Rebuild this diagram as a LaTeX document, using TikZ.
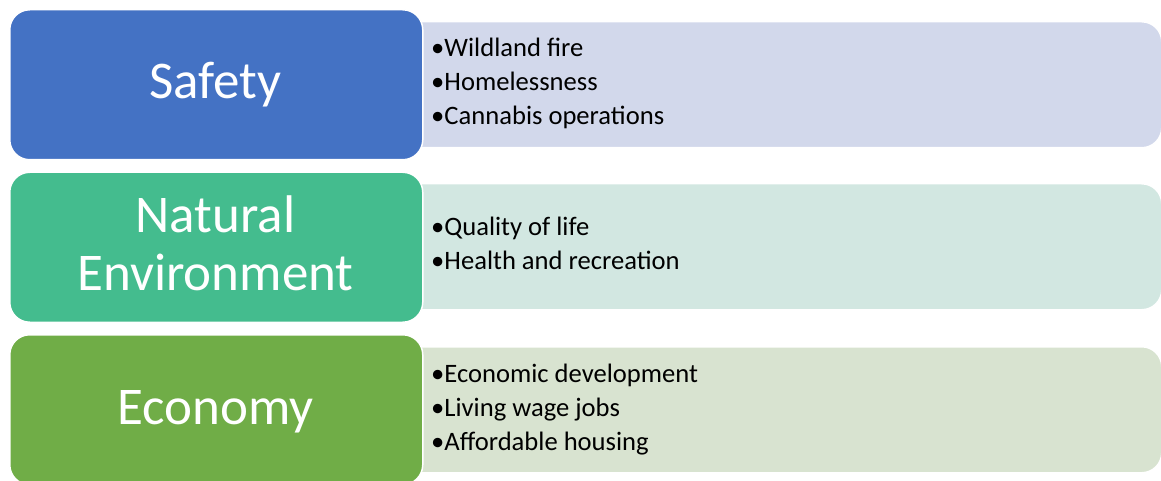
\documentclass[tikz,border=0pt]{standalone}
\usepackage{fontspec}
\setmainfont{Carlito}
\definecolor{cBlue}{RGB}{68,114,196}
\definecolor{cTeal}{RGB}{68,188,142}
\definecolor{cGreen}{RGB}{112,173,71}
\definecolor{lBlue}{RGB}{210,216,235}
\definecolor{lTeal}{RGB}{210,231,225}
\definecolor{lGreen}{RGB}{216,227,208}
\begin{document}
\begin{tikzpicture}[x=1pt,y=-1pt,
  mainbox/.style={draw=white,line width=1.5pt,rounded corners=20pt,minimum width=413pt,minimum height=150pt,inner sep=0pt,anchor=north west},
  listbox/.style={draw=white,line width=1.5pt,rounded corners=20pt,minimum width=761pt,minimum height=126pt,inner sep=0pt,anchor=north west},
  title/.style={text=white,font=\fontsize{53}{57}\selectfont,inner sep=0pt,anchor=base},
  item/.style={text=black,font=\fontsize{26.6}{34}\selectfont,inner sep=0pt,anchor=base west}]
\useasboundingbox (0,0) rectangle (1161,481);
% list boxes (behind)
\node[listbox,fill=lBlue] (l1) at (400,21) {};
\node[listbox,fill=lTeal] (l2) at (400,183) {};
\node[listbox,fill=lGreen] (l3) at (400,346) {};
% main boxes
\node[mainbox,fill=cBlue] (m1) at (9,9) {};
\node[mainbox,fill=cTeal] (m2) at (9,171.5) {};
\node[mainbox,fill=cGreen] (m3) at (9,334) {};
% titles
\node[title] (t1) at (215.5,99) {Safety};
\node[title] (t2a) at (215.5,233) {Natural};
\node[title] (t2b) at (215.5,290) {Environment};
\node[title] (t3) at (215.5,424) {Economy};
% items
\node[item] (i11) at (431,57) {•Wildland fire};
\node[item] (i12) at (431,91) {•Homelessness};
\node[item] (i13) at (431,125) {•Cannabis operations};
\node[item] (i21) at (431,235) {•Quality of life};
\node[item] (i22) at (431,269) {•Health and recreation};
\node[item] (i31) at (431,382) {•Economic development};
\node[item] (i32) at (431,416) {•Living wage jobs};
\node[item] (i33) at (431,450) {•Affordable housing};
\end{tikzpicture}
\end{document}
